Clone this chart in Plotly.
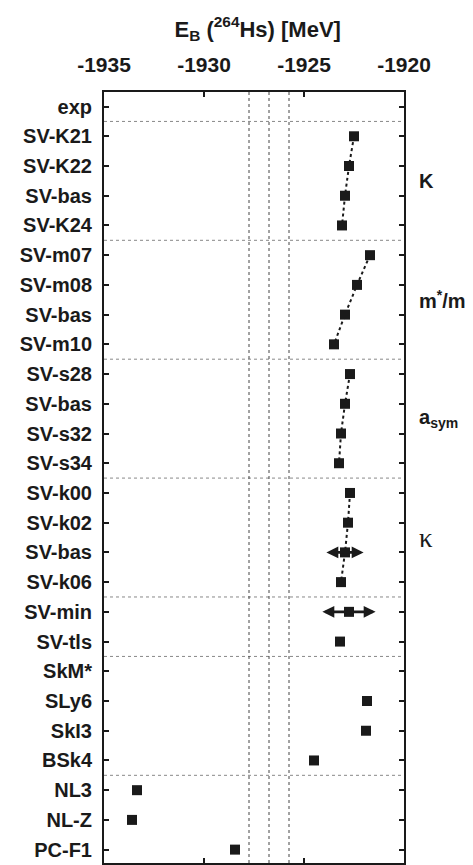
import plotly.graph_objects as go

# ---- data ----
labels = ["exp", "SV-K21", "SV-K22", "SV-bas", "SV-K24",
          "SV-m07", "SV-m08", "SV-bas", "SV-m10",
          "SV-s28", "SV-bas", "SV-s32", "SV-s34",
          "SV-k00", "SV-k02", "SV-bas", "SV-k06",
          "SV-min", "SV-tls",
          "SkM*", "SLy6", "SkI3", "BSk4",
          "NL3", "NL-Z", "PC-F1"]
energies = [None, -1922.5, -1922.75, -1922.95, -1923.1,
            -1921.7, -1922.35, -1922.95, -1923.5,
            -1922.7, -1922.95, -1923.15, -1923.25,
            -1922.7, -1922.8, -1922.95, -1923.15,
            -1922.75, -1923.2,
            None, -1921.85, -1921.9, -1924.5,
            -1933.35, -1933.6, -1928.45]
errors = {15: 0.93, 17: 1.33}          # row index -> error (MeV)
exp_value = -1926.75
exp_band = 1.0
group_sizes = [1, 4, 4, 4, 4, 2, 4, 3]
connected_groups = [1, 2, 3, 4]          # indices into group_sizes drawn with lines
group_names = {1: "<b>K</b>", 2: "<b>m<sup>*</sup>/m</b>",
               3: "<b>a<sub>sym</sub></b>", 4: "κ"}
x_ticks = [-1935, -1930, -1925, -1920]

rows = list(range(len(labels)))
starts = [sum(group_sizes[:i]) for i in range(len(group_sizes))]

fig = go.Figure()
black = "#1a1a1a"

# grouped (connected) series
in_group = set()
for g in connected_groups:
    idx = list(range(starts[g], starts[g] + group_sizes[g]))
    in_group.update(idx)
    fig.add_trace(go.Scatter(
        x=[energies[i] for i in idx], y=idx, mode="lines+markers",
        line=dict(color=black, width=2, dash="dot"),
        marker=dict(symbol="square", size=10, color=black),
        showlegend=False, hoverinfo="skip"))

# other points
idx = [i for i in rows if i not in in_group and energies[i] is not None]
fig.add_trace(go.Scatter(
    x=[energies[i] for i in idx], y=idx, mode="markers",
    marker=dict(symbol="square", size=10, color=black),
    showlegend=False, hoverinfo="skip"))

# error bars drawn as double arrows
annotations = []
for i, e in errors.items():
    for s in (-1, 1):
        annotations.append(dict(
            x=energies[i] + s * e, y=i, ax=energies[i], ay=i,
            xref="x", yref="y", axref="x", ayref="y",
            text="", showarrow=True, arrowhead=2, arrowsize=0.85,
            arrowwidth=2.8, arrowcolor=black, standoff=0, startstandoff=0))

# group labels on the right
for g, txt in group_names.items():
    center = starts[g] + (group_sizes[g] - 1) / 2
    font = dict(size=20, color=black, family="Liberation Sans, Arial")
    if g == 4:
        font = dict(size=27, color=black, family="Liberation Serif, serif")
    annotations.append(dict(
        x=1.043, y=center, xref="paper", yref="y", xanchor="left",
        yanchor="middle", text=txt, showarrow=False, font=font))

# shapes: separators and experimental band
shapes = []
for s in starts[1:]:
    shapes.append(dict(type="line", xref="paper", x0=0, x1=1, yref="y",
                       y0=s - 0.5, y1=s - 0.5,
                       line=dict(color="#888888", width=1, dash="dot"),
                       layer="below"))
for xv in (exp_value - exp_band, exp_value, exp_value + exp_band):
    shapes.append(dict(type="line", xref="x", x0=xv, x1=xv, yref="paper",
                       y0=0, y1=1,
                       line=dict(color="#444444", width=1, dash="dot"),
                       layer="below"))

# page body has an 8px default margin -> compensate
fig.update_layout(
    width=465, height=857,
    margin=dict(l=96, r=69, t=84, b=2, autoexpand=False),
    paper_bgcolor="white", plot_bgcolor="white",
    font=dict(family="Liberation Sans, Arial", color=black),
    title=dict(text="<b>E<sub>B</sub> (<sup>264</sup>Hs) [MeV]</b>",
               x=0.537, xanchor="center", y=1 - 21 / 857, yanchor="middle",
               font=dict(size=22, color=black)),
    annotations=annotations, shapes=shapes,
    xaxis=dict(side="top", range=[-1935, -1920], tickvals=x_ticks,
               ticktext=[str(v) for v in x_ticks],
               ticks="inside", ticklen=5, tickwidth=2, tickcolor=black,
               showline=True, linewidth=2, linecolor=black, mirror="ticks",
               showgrid=False, zeroline=False, automargin=False,
               tickfont=dict(size=21, weight="bold", color=black),
               ticklabelstandoff=10),
    yaxis=dict(range=[25.45, -0.49], tickvals=rows,
               ticktext=[f"<b>{t}</b>" for t in labels],
               ticks="inside", ticklen=5, tickwidth=2, tickcolor=black,
               showline=True, linewidth=2, linecolor=black, mirror="ticks",
               showgrid=False, zeroline=False, automargin=False,
               tickfont=dict(size=20, color=black),
               ticklabelstandoff=6),
)

fig.write_html("out.html")
